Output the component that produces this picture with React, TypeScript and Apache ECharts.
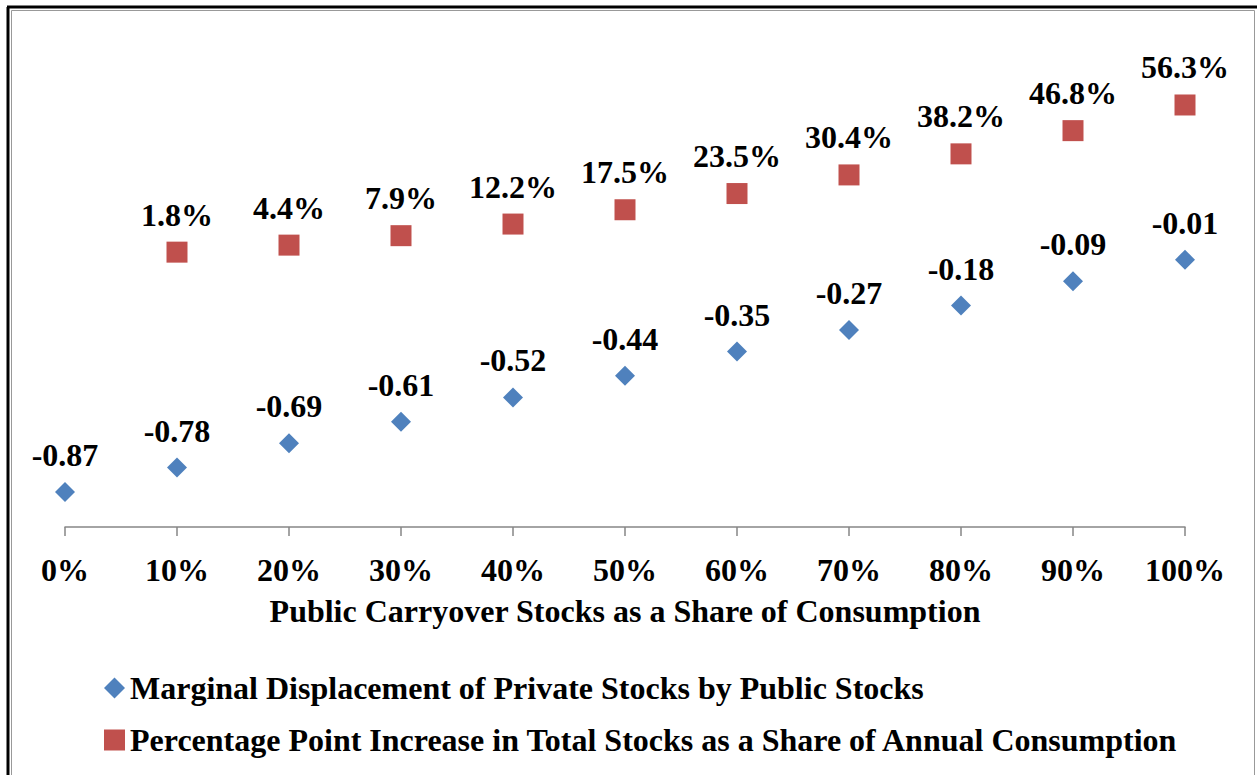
import React, { useEffect, useRef } from "react";
import * as echarts from "echarts";

const shares = [0, 0.1, 0.2, 0.3, 0.4, 0.5, 0.6, 0.7, 0.8, 0.9, 1.0];
const displacement = [-0.87, -0.78, -0.69, -0.61, -0.52, -0.44, -0.35, -0.27, -0.18, -0.09, -0.01];
const increaseShares = [0.1, 0.2, 0.3, 0.4, 0.5, 0.6, 0.7, 0.8, 0.9, 1.0];
const increase = [0.018, 0.044, 0.079, 0.122, 0.175, 0.235, 0.304, 0.382, 0.468, 0.563];
const seriesNames = [
  "Marginal Displacement of Private Stocks by Public Stocks",
  "Percentage Point Increase in Total Stocks as a Share of Annual Consumption",
];
const xTitle = "Public Carryover Stocks as a Share of Consumption";

const FONT = "'Liberation Serif', 'Times New Roman', serif";
const FS = 32;

export default function App() {
  const ref = useRef<HTMLDivElement>(null);
  useEffect(() => {
    if (!ref.current) return;
    const chart = echarts.init(ref.current, undefined, { renderer: "svg" });
    const labelStyle = {
      show: true,
      position: "top" as const,
      distance: 11,
      fontFamily: FONT,
      fontWeight: "bold" as const,
      fontSize: FS,
      color: "#000",
    };
    chart.setOption({
      animation: false,
      backgroundColor: "#fff",
      grid: { left: 65, right: 72, top: 41, bottom: 248 },
      xAxis: {
        type: "value",
        min: 0,
        max: 1,
        interval: 0.1,
        splitLine: { show: false },
        axisLine: { show: true, onZero: false, lineStyle: { color: "#868686", width: 1.5 } },
        axisTick: { show: true, length: 9, lineStyle: { color: "#868686", width: 1.5 } },
        axisLabel: {
          margin: 27,
          fontFamily: FONT,
          fontWeight: "bold",
          fontSize: FS,
          color: "#000",
          formatter: (v: number) => Math.round(v * 100) + "%",
        },
        name: xTitle,
        nameLocation: "middle",
        nameGap: 68,
        nameTextStyle: { fontFamily: FONT, fontWeight: "bold", fontSize: FS, color: "#000" },
      },
      yAxis: {
        type: "value",
        min: -1,
        max: 0.8,
        show: false,
        splitLine: { show: false },
      },
      legend: {
        orient: "vertical",
        left: 99,
        top: 666,
        itemWidth: 21,
        itemHeight: 21,
        itemGap: 18,
        textStyle: { fontFamily: FONT, fontWeight: "bold", fontSize: FS, color: "#000", lineHeight: 34 },
        data: [
          { name: seriesNames[0], icon: "diamond" },
          { name: seriesNames[1], icon: "rect" },
        ],
      },
      series: [
        {
          name: seriesNames[0],
          type: "scatter",
          symbol: "diamond",
          symbolSize: 20,
          itemStyle: { color: "#4F81BD", opacity: 1 },
          data: shares.map((s, i) => [s, displacement[i]]),
          label: { ...labelStyle, formatter: (p: any) => p.value[1].toFixed(2) },
        },
        {
          name: seriesNames[1],
          type: "scatter",
          symbol: "rect",
          symbolSize: 21,
          itemStyle: { color: "#C0504D", opacity: 1 },
          data: increaseShares.map((s, i) => [s, increase[i]]),
          label: { ...labelStyle, formatter: (p: any) => (p.value[1] * 100).toFixed(1) + "%" },
        },
      ],
      graphic: [
        { type: "line", shape: { x1: 8, y1: 7, x2: 8, y2: 800 }, style: { stroke: "#000", lineWidth: 3 } },
        { type: "line", shape: { x1: 7, y1: 7, x2: 1257, y2: 7 }, style: { stroke: "#000", lineWidth: 3 } },
        { type: "rect", shape: { x: 11.5, y: 10.5, width: 1243, height: 800 }, style: { fill: "none", stroke: "#999", lineWidth: 1 } },
      ],
    });
    return () => chart.dispose();
  }, []);
  return <div ref={ref} style={{ position: "absolute", left: 0, top: 0, width: 1257, height: 775 }} />;
}
